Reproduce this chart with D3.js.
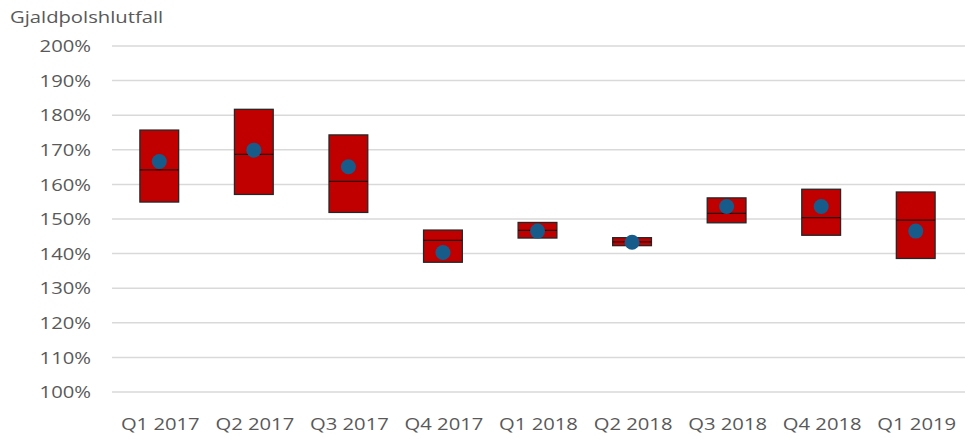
<!DOCTYPE html>
<html>
<head>
<meta charset="utf-8">
<script src="https://cdn.jsdelivr.net/npm/d3@7"></script>
<style>
  body { margin: 0; background: #fff; overflow: hidden; }
  svg { display: block; }
  text { font-family: "Open Sans", sans-serif; fill: #595959; }
</style>
</head>
<body>
<div class="chart-area"></div>
<script>
// quarters and box values (solvency ratio, %)
const quarters = ["Q1 2017", "Q2 2017", "Q3 2017", "Q4 2017", "Q1 2018", "Q2 2018", "Q3 2018", "Q4 2018", "Q1 2019"];
const lowValues = [154.9, 157.1, 151.9, 137.5, 144.5, 142.3, 148.9, 145.3, 138.6];
const highValues = [175.7, 181.7, 174.3, 146.8, 149.0, 144.6, 156.1, 158.6, 157.8];
const medianValues = [164.2, 168.7, 160.9, 143.8, 146.7, 143.4, 151.6, 150.4, 149.7];
const meanValues = [166.6, 169.9, 165.1, 140.3, 146.5, 143.3, 153.6, 153.6, 146.5];
const yTicks = [100, 110, 120, 130, 140, 150, 160, 170, 180, 190, 200];

const width = 965,
  height = 439,
  margin = { top: 46, right: 0, bottom: 47, left: 112 },
  stretch = 1.19; // the original text is a bit wider than the fonts we have

const innerWidth = width - margin.left - margin.right,
  innerHeight = height - margin.top - margin.bottom;

const svg = d3
  .select(".chart-area")
  .append("svg")
  .attr("width", width)
  .attr("height", height);

const g = svg.append("g").attr("transform", `translate(${margin.left},${margin.top})`);

const x = d3.scaleBand().domain(quarters).range([0, innerWidth - 2]).paddingInner(0.59).paddingOuter(0.295);
const y = d3.scaleLinear().domain([100, 200]).range([innerHeight, 0]);

const place = (px, py) => `translate(${px},${py}) scale(${stretch},1)`;

// gridlines
g.append("g")
  .selectAll("line")
  .data(yTicks)
  .enter()
  .append("line")
  .attr("x1", 0)
  .attr("x2", innerWidth)
  .attr("y1", (d) => y(d))
  .attr("y2", (d) => y(d))
  .attr("stroke", "#d9d9d9")
  .attr("stroke-width", 1.5);

// y labels
g.append("g")
  .selectAll("text")
  .data(yTicks)
  .enter()
  .append("text")
  .attr("transform", (d) => place(-21, y(d)))
  .attr("dy", "0.36em")
  .attr("text-anchor", "end")
  .attr("font-size", 17)
  .text((d) => d + "%");

// x labels
g.append("g")
  .selectAll("text")
  .data(quarters)
  .enter()
  .append("text")
  .attr("transform", (d) => place(x(d) + x.bandwidth() / 2 + 1, innerHeight + 38))
  .attr("text-anchor", "middle")
  .attr("font-size", 17)
  .text((d) => d);

// title
svg.append("text")
  .attr("transform", place(10, 23))
  .attr("font-size", 17)
  .text("Gjaldþolshlutfall");

const rows = quarters.map((q, i) => ({
  q: q,
  low: lowValues[i],
  high: highValues[i],
  median: medianValues[i],
  mean: meanValues[i]
}));

const box = g.append("g").selectAll("g").data(rows).enter().append("g");

box.append("rect")
  .attr("x", (d) => x(d.q))
  .attr("y", (d) => y(d.high))
  .attr("width", x.bandwidth())
  .attr("height", (d) => y(d.low) - y(d.high))
  .attr("fill", "#c00000")
  .attr("stroke", "#262626")
  .attr("stroke-width", 1.3);

box.append("line")
  .attr("x1", (d) => x(d.q))
  .attr("x2", (d) => x(d.q) + x.bandwidth())
  .attr("y1", (d) => y(d.median))
  .attr("y2", (d) => y(d.median))
  .attr("stroke", "#2b0b0b")
  .attr("stroke-width", 1.3);

box.append("circle")
  .attr("cx", (d) => x(d.q) + x.bandwidth() / 2)
  .attr("cy", (d) => y(d.mean))
  .attr("r", 7.5)
  .attr("fill", "#165b8a");
</script>
</body>
</html>
